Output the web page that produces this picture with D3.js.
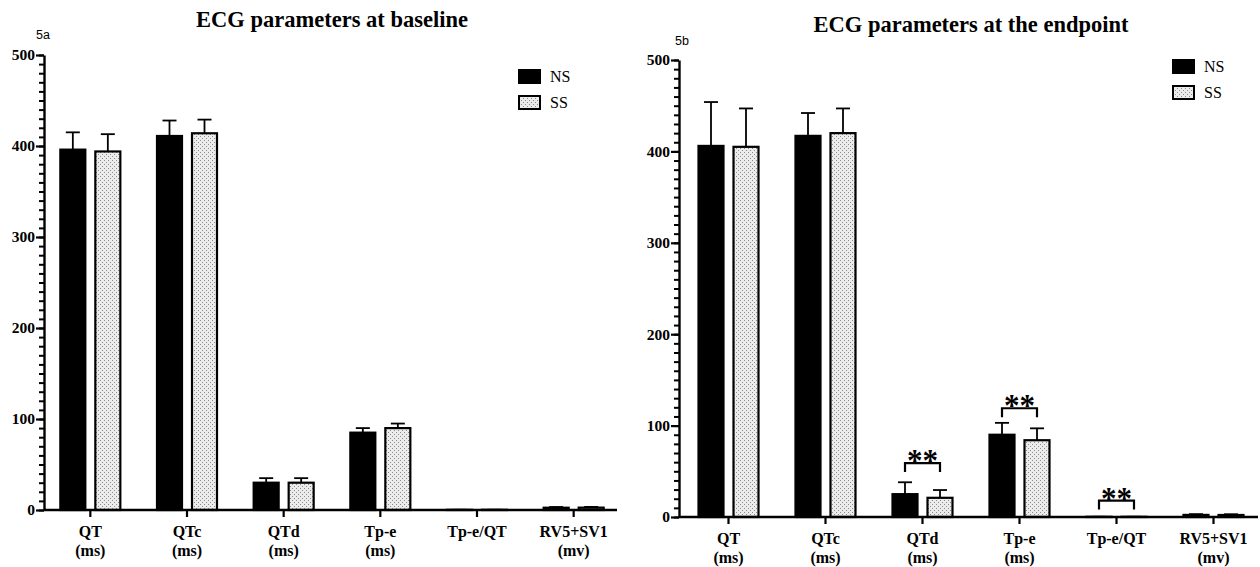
<!DOCTYPE html>
<html>
<head>
<meta charset="utf-8">
<script src="https://cdn.jsdelivr.net/npm/d3@7"></script>
<style>
  html, body { margin: 0; padding: 0; background: #fff; }
  svg { display: block; }
</style>
</head>
<body>
<svg id="chart" width="1260" height="567"></svg>
<script>
// ---------- data ----------
const catLine1 = ["QT", "QTc", "QTd", "Tp-e", "Tp-e/QT", "RV5+SV1"];
const catLine2 = ["(ms)", "(ms)", "(ms)", "(ms)", "", "(mv)"];
const seriesNames = ["NS", "SS"];

const baselineNS   = [396, 411, 30, 85, 0.22, 2.5];
const baselineNSsd = [19, 17, 5, 5, 0.03, 0.8];
const baselineSS   = [394, 414, 30, 90, 0.23, 2.6];
const baselineSSsd = [19, 15, 5, 5, 0.03, 0.8];

const endpointNS   = [406, 417, 25, 90, 0.22, 2.3];
const endpointNSsd = [48, 25, 13, 13, 0.03, 0.8];
const endpointSS   = [405, 420, 21, 84, 0.21, 2.2];
const endpointSSsd = [42, 27, 8.5, 13, 0.03, 0.8];

const yTicksMajor = [0, 100, 200, 300, 400, 500];
const endpointSigIdx   = [2, 3, 4];
const endpointSigLevel = [59, 119, 18];
const endpointSigLabel = ["**", "**", "**"];

// ---------- drawing ----------
const svg = d3.select("#chart");
const serif = "'Liberation Serif', 'Times New Roman', serif";
const sans = "'Liberation Sans', Arial, sans-serif";

const defs = svg.append("defs");
const pat = defs.append("pattern").attr("id", "stipple")
  .attr("patternUnits", "userSpaceOnUse").attr("width", 4).attr("height", 4);
pat.append("rect").attr("width", 4).attr("height", 4).attr("fill", "#ececec");
pat.append("rect").attr("x", 0).attr("y", 0).attr("width", 1).attr("height", 1).attr("fill", "#8a8a8a");
pat.append("rect").attr("x", 2).attr("y", 2).attr("width", 1).attr("height", 1).attr("fill", "#8a8a8a");

function panel(cfg) {
  const g = svg.append("g");
  const x = d3.scaleBand().domain(catLine1).range(cfg.xRange).padding(0);
  const inner = d3.scaleBand().domain(seriesNames).range([-30, 30]).paddingInner(10 / 35).paddingOuter(0);
  const y = d3.scaleLinear().domain([0, 500]).range(cfg.yRange);
  const axX = cfg.xRange[0] + cfg.axisShift;

  // title
  g.append("text").attr("x", cfg.titleX).attr("y", cfg.titleY)
    .attr("text-anchor", "middle").attr("font-family", serif).attr("font-weight", "bold")
    .attr("font-size", 22.5).attr("fill", "#000").text(cfg.title);
  g.append("text").attr("x", cfg.tagX).attr("y", cfg.tagY)
    .attr("font-family", sans).attr("font-size", 12.5).attr("fill", "#000").text(cfg.tag);

  // y axis: minor ticks
  const yMinor = g.append("g").attr("transform", `translate(${axX},0)`)
    .call(d3.axisLeft(y).tickValues(d3.range(0, 501, 10)).tickSize(5).tickFormat(""));
  yMinor.select(".domain").remove();
  yMinor.selectAll("line").attr("stroke", "#000").attr("stroke-width", 2);
  const yMajor = g.append("g").attr("transform", `translate(${axX},0)`)
    .call(d3.axisLeft(y).tickValues(yTicksMajor).tickSize(8).tickSizeOuter(0).tickPadding(1));
  yMajor.select(".domain").attr("stroke", "#000").attr("stroke-width", 2.4);
  yMajor.selectAll("line").attr("stroke", "#000").attr("stroke-width", 2.2);
  yMajor.selectAll("text").attr("font-family", serif).attr("font-weight", "bold")
    .attr("font-size", 15.5).attr("fill", "#000");

  // bars
  const series = [
    { name: "NS", vals: cfg.ns, sd: cfg.nsSd, fill: "#000" },
    { name: "SS", vals: cfg.ss, sd: cfg.ssSd, fill: "url(#stipple)" }
  ];
  series.forEach(s => {
    const sg = g.append("g");
    catLine1.forEach((c, i) => {
      const cx = x(c) + x.bandwidth() / 2 + inner(s.name) + inner.bandwidth() / 2;
      const top = y(s.vals[i] + s.sd[i]);
      const yv = y(s.vals[i]);
      sg.append("line").attr("x1", cx).attr("x2", cx).attr("y1", yv).attr("y2", top)
        .attr("stroke", "#000").attr("stroke-width", 1.8);
      sg.append("line").attr("x1", cx - 7).attr("x2", cx + 7).attr("y1", top).attr("y2", top)
        .attr("stroke", "#000").attr("stroke-width", 1.8);
      sg.append("rect")
        .attr("x", x(c) + x.bandwidth() / 2 + inner(s.name))
        .attr("y", yv).attr("width", inner.bandwidth())
        .attr("height", Math.max(0, y(0) - yv))
        .attr("fill", s.fill).attr("stroke", "#000").attr("stroke-width", 2.2);
    });
  });

  // x axis
  const xAx = g.append("g").attr("transform", `translate(0,${y(0)})`)
    .call(d3.axisBottom(x).tickSize(7).tickSizeOuter(0).tickFormat(""));
  xAx.select(".domain").remove();
  xAx.selectAll("line").attr("stroke", "#000").attr("stroke-width", 2.2);
  g.append("line").attr("x1", axX).attr("x2", cfg.xAxisEnd)
    .attr("y1", y(0)).attr("y2", y(0)).attr("stroke", "#000").attr("stroke-width", 2.4);
  catLine1.forEach((c, i) => {
    const cx = x(c) + x.bandwidth() / 2;
    g.append("text").attr("x", cx).attr("y", y(0) + 27).attr("text-anchor", "middle")
      .attr("font-family", serif).attr("font-weight", "bold").attr("font-size", 16).text(c);
    if (catLine2[i]) {
      g.append("text").attr("x", cx).attr("y", y(0) + 46).attr("text-anchor", "middle")
        .attr("font-family", serif).attr("font-weight", "bold").attr("font-size", 16).text(catLine2[i]);
    }
  });

  // significance brackets
  (cfg.sigIdx || []).forEach((idx, k) => {
    const c = catLine1[idx];
    const x1 = x(c) + x.bandwidth() / 2 + inner("NS") + inner.bandwidth() / 2;
    const x2 = x(c) + x.bandwidth() / 2 + inner("SS") + inner.bandwidth() / 2;
    const yb = y(cfg.sigLevel[k]);
    g.append("path").attr("d", `M${x1},${yb + 9}V${yb}H${x2}V${yb + 9}`)
      .attr("fill", "none").attr("stroke", "#000").attr("stroke-width", 2.2);
    g.append("text").attr("x", (x1 + x2) / 2).attr("y", yb + 8).attr("text-anchor", "middle")
      .attr("font-family", serif).attr("font-weight", "bold").attr("font-size", 31)
      .text(cfg.sigLabel[k]);
  });

  // legend
  const lg = g.append("g").attr("transform", `translate(${cfg.legX},${cfg.legY})`);
  series.forEach((s, i) => {
    lg.append("rect").attr("x", 0).attr("y", i * 26).attr("width", 21).attr("height", 13)
      .attr("fill", s.fill).attr("stroke", "#000").attr("stroke-width", 2);
    lg.append("text").attr("x", 31).attr("y", i * 26 + 12)
      .attr("font-family", serif).attr("font-size", 16).attr("fill", "#000").text(s.name);
  });
}

panel({
  title: "ECG parameters at baseline", titleX: 332, titleY: 26.5,
  tag: "5a", tagX: 36, tagY: 38.5,
  xRange: [42, 622], axisShift: 2, xAxisEnd: 617, yRange: [510, 55],
  ns: baselineNS, nsSd: baselineNSsd, ss: baselineSS, ssSd: baselineSSsd,
  legX: 519, legY: 70
});

panel({
  title: "ECG parameters at the endpoint", titleX: 971, titleY: 31.5,
  tag: "5b", tagX: 675, tagY: 45,
  xRange: [680, 1262], axisShift: -1, xAxisEnd: 1258, yRange: [517, 60],
  ns: endpointNS, nsSd: endpointNSsd, ss: endpointSS, ssSd: endpointSSsd,
  sigIdx: endpointSigIdx, sigLevel: endpointSigLevel, sigLabel: endpointSigLabel,
  legX: 1173, legY: 60
});
</script>
</body>
</html>
